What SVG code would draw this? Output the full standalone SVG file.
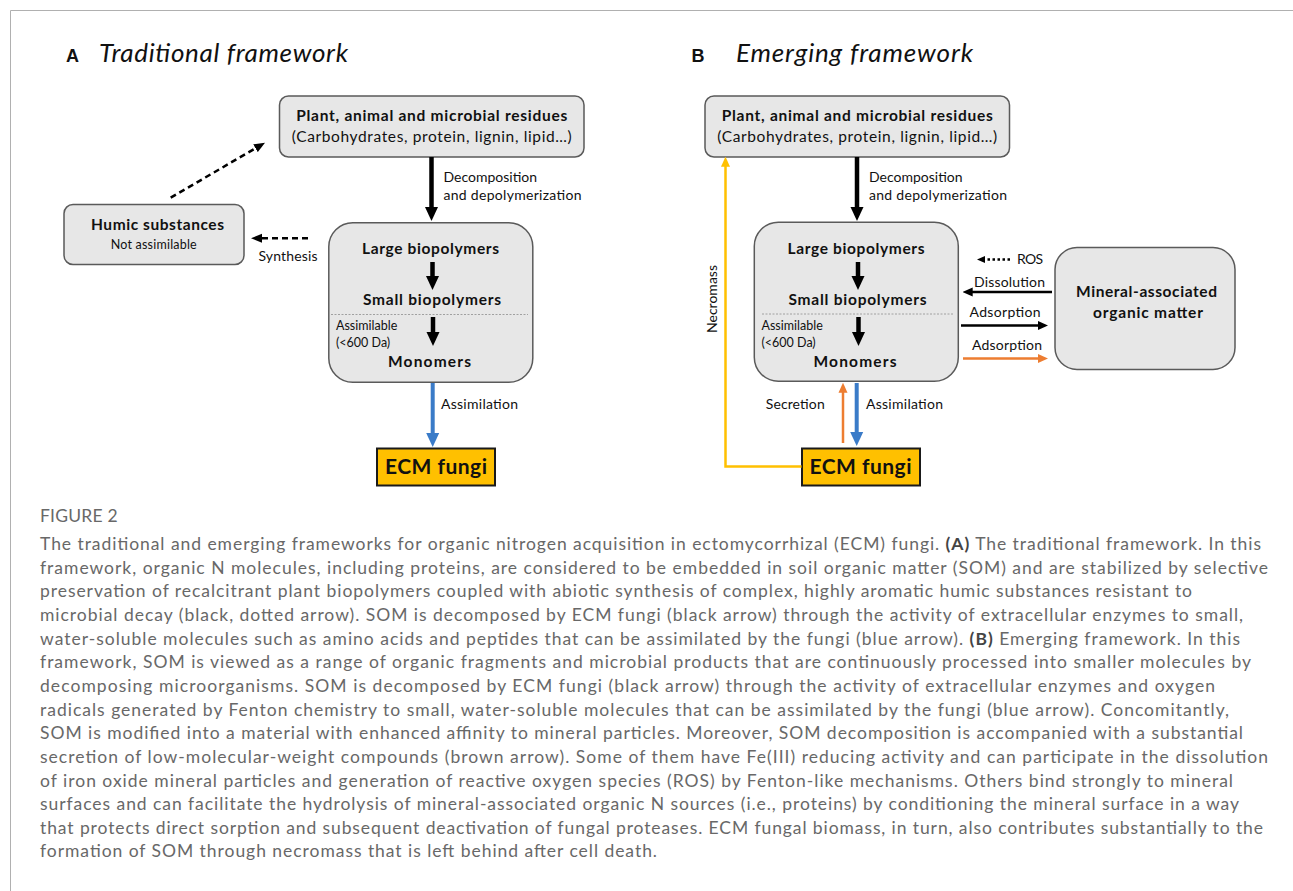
<svg xmlns="http://www.w3.org/2000/svg" width="1293" height="891" viewBox="0 0 1293 891">
<defs>
<style>
.t{font-family:Lato,"Open Sans","Liberation Sans",sans-serif;fill:#111}
.b{font-weight:bold}
.box{fill:#e7e7e7;stroke:#5a5a5a;stroke-width:1.5}
.ecm{fill:#ffc000;stroke:#1a1a1a;stroke-width:2}
.lab{font-size:14px}
.big{font-size:15.5px;font-weight:bold}
.cap{font-family:Lato,"Open Sans","Liberation Sans",sans-serif;font-size:17.5px;font-weight:400;fill:#686868}
.ttl{font-family:Lato,"Open Sans","Liberation Sans",sans-serif;font-style:italic;font-size:26px;fill:#111}
.pl{font-family:"Liberation Sans",Arial,sans-serif;font-weight:bold;font-size:18px;fill:#111}
</style>
<marker id="hk" markerUnits="userSpaceOnUse" markerWidth="14" markerHeight="14" viewBox="0 0 14 14" refX="4" refY="7" orient="auto"><path d="M0,0.5 L14,7 L0,13.5z" fill="#000"/></marker>
<marker id="hb" markerUnits="userSpaceOnUse" markerWidth="14" markerHeight="14" viewBox="0 0 14 14" refX="4" refY="7" orient="auto"><path d="M0,0.5 L14,7 L0,13.5z" fill="#3a7bc8"/></marker>
<marker id="ht" markerUnits="userSpaceOnUse" markerWidth="10" markerHeight="10" viewBox="0 0 10 10" refX="3" refY="5" orient="auto"><path d="M0,0.5 L10,5 L0,9.5z" fill="#000"/></marker>
<marker id="ho" markerUnits="userSpaceOnUse" markerWidth="10" markerHeight="10" viewBox="0 0 10 10" refX="3" refY="5" orient="auto"><path d="M0,0.5 L10,5 L0,9.5z" fill="#ed7d31"/></marker>
<marker id="hy" markerUnits="userSpaceOnUse" markerWidth="10" markerHeight="10" viewBox="0 0 10 10" refX="3" refY="5" orient="auto"><path d="M0,0.5 L10,5 L0,9.5z" fill="#ffc000"/></marker>
<marker id="hd" markerUnits="userSpaceOnUse" markerWidth="11" markerHeight="10" viewBox="0 0 11 10" refX="3" refY="5" orient="auto"><path d="M0,0.5 L11,5 L0,9.5z" fill="#000"/></marker>
<marker id="hr" markerUnits="userSpaceOnUse" markerWidth="8" markerHeight="8" viewBox="0 0 8 8" refX="2" refY="4" orient="auto"><path d="M0,0.5 L8,4 L0,7.5z" fill="#000"/></marker>
</defs>
<rect width="1293" height="891" fill="#fff"/>
<path d="M10.5,891 V10.5 H1293" fill="none" stroke="#b0b0b0" stroke-width="1"/>

<!-- Panel titles -->
<g id="titleA">
<text class="pl" x="66" y="61.5">A</text>
<text class="ttl" x="99" y="62" textLength="249">Traditional framework</text>
</g>
<g id="titleB">
<text class="pl" x="691.5" y="61.5">B</text>
<text class="ttl" x="736" y="62" textLength="237">Emerging framework</text>
</g>

<!-- Panel A nodes -->
<g id="A-residues">
<rect class="box" x="279.5" y="96" width="304.5" height="61" rx="9"/>
<text class="t big" x="431.7" y="120.5" text-anchor="middle" textLength="271">Plant, animal and microbial residues</text>
<text class="t" x="431.7" y="141.5" text-anchor="middle" font-size="15.5" textLength="280">(Carbohydrates, protein, lignin, lipid…)</text>
</g>
<g id="A-humic">
<rect class="box" x="64" y="204.5" width="180" height="60" rx="9"/>
<text class="t big" x="157.5" y="230" text-anchor="middle" textLength="133">Humic substances</text>
<text class="t" x="153.7" y="249" text-anchor="middle" font-size="12.5" textLength="86">Not assimilable</text>
</g>
<g id="A-pool">
<rect class="box" x="328.8" y="222.7" width="204" height="159.6" rx="24"/>
<text class="t big" x="430.5" y="254" text-anchor="middle" textLength="137">Large biopolymers</text>
<text class="t big" x="432" y="305" text-anchor="middle" textLength="138">Small biopolymers</text>
<line x1="331" y1="314.5" x2="528" y2="314.5" stroke="#a0a0a0" stroke-width="1" stroke-dasharray="2,1.5"/>
<text class="t" x="336" y="330" font-size="12.5">Assimilable</text>
<text class="t" x="336" y="347" font-size="12.5">(&lt;600 Da)</text>
<text class="t big" x="429.5" y="367" text-anchor="middle" textLength="83">Monomers</text>
</g>
<g id="A-ecm">
<rect class="ecm" x="377" y="448.5" width="118" height="37"/>
<text class="t b" x="436" y="474" text-anchor="middle" font-size="21" textLength="102">ECM fungi</text>
</g>

<!-- Panel B nodes -->
<g id="B-residues">
<rect class="box" x="705" y="96" width="304.5" height="61" rx="9"/>
<text class="t big" x="857.2" y="120.5" text-anchor="middle" textLength="271">Plant, animal and microbial residues</text>
<text class="t" x="857.2" y="141.5" text-anchor="middle" font-size="15.5" textLength="280">(Carbohydrates, protein, lignin, lipid…)</text>
</g>
<g id="B-pool">
<rect class="box" x="754.3" y="222.2" width="204" height="159" rx="24"/>
<text class="t big" x="856" y="254" text-anchor="middle" textLength="137">Large biopolymers</text>
<text class="t big" x="857.5" y="305" text-anchor="middle" textLength="138">Small biopolymers</text>
<line x1="762" y1="314" x2="954" y2="314" stroke="#a0a0a0" stroke-width="1" stroke-dasharray="2,1.5"/>
<text class="t" x="761.5" y="330" font-size="12.5">Assimilable</text>
<text class="t" x="761.5" y="347" font-size="12.5">(&lt;600 Da)</text>
<text class="t big" x="855" y="367" text-anchor="middle" textLength="83">Monomers</text>
</g>
<g id="B-mineral">
<rect class="box" x="1055" y="247.5" width="180" height="122" rx="22"/>
<text class="t big" x="1146.5" y="297" text-anchor="middle" textLength="141">Mineral-associated</text>
<text class="t big" x="1148" y="317.5" text-anchor="middle" textLength="110">organic matter</text>
</g>
<g id="B-ecm">
<rect class="ecm" x="802" y="448.5" width="118" height="37"/>
<text class="t b" x="860.5" y="474" text-anchor="middle" font-size="21" textLength="102">ECM fungi</text>
</g>

<!-- Connectors -->
<g id="connectors" fill="none">
<line x1="431.5" y1="157" x2="431.5" y2="211" stroke="#000" stroke-width="4.5" marker-end="url(#hk)"/>
<line x1="432.5" y1="262" x2="432.5" y2="280" stroke="#000" stroke-width="4.5" marker-end="url(#hk)"/>
<line x1="433" y1="317" x2="433" y2="336" stroke="#000" stroke-width="4.5" marker-end="url(#hk)"/>
<line x1="432.7" y1="383" x2="432.7" y2="437" stroke="#3a7bc8" stroke-width="4" marker-end="url(#hb)"/>
<line x1="170.7" y1="197.7" x2="258.1" y2="146.7" stroke="#000" stroke-width="2.5" stroke-dasharray="6,4" marker-end="url(#hd)"/>
<line x1="308" y1="238.3" x2="259" y2="238.3" stroke="#000" stroke-width="2.5" stroke-dasharray="6,4" marker-end="url(#hd)"/>
<line x1="857" y1="157" x2="857" y2="211" stroke="#000" stroke-width="4.5" marker-end="url(#hk)"/>
<line x1="858" y1="262" x2="858" y2="280" stroke="#000" stroke-width="4.5" marker-end="url(#hk)"/>
<line x1="858.5" y1="317" x2="858.5" y2="336" stroke="#000" stroke-width="4.5" marker-end="url(#hk)"/>
<line x1="856.7" y1="383" x2="856.7" y2="436" stroke="#3a7bc8" stroke-width="4" marker-end="url(#hb)"/>
<line x1="843" y1="443" x2="843" y2="389.7" stroke="#ed7d31" stroke-width="2.5" marker-end="url(#ho)"/>
<polyline points="801.5,466.5 725.5,466.5 725.5,163.7" stroke="#ffc000" stroke-width="2.5" marker-end="url(#hy)"/>
<line x1="1010" y1="259.5" x2="983" y2="259.5" stroke="#000" stroke-width="2.5" stroke-dasharray="2.5,2.5" marker-end="url(#hr)"/>
<line x1="1052" y1="292" x2="969.7" y2="292" stroke="#000" stroke-width="2.5" marker-end="url(#ht)"/>
<line x1="961" y1="325.5" x2="1041" y2="325.5" stroke="#000" stroke-width="2.5" marker-end="url(#ht)"/>
<line x1="963" y1="358.5" x2="1041" y2="358.5" stroke="#ed7d31" stroke-width="2.5" marker-end="url(#ho)"/>
</g>

<!-- Connector labels -->
<g id="labels">
<text class="t lab" x="443.5" y="181.5">Decomposition</text>
<text class="t lab" x="443.5" y="200" textLength="138">and depolymerization</text>
<text class="t lab" x="258.5" y="261" textLength="59">Synthesis</text>
<text class="t lab" x="441" y="409" textLength="77">Assimilation</text>
<text class="t lab" x="869" y="181.5">Decomposition</text>
<text class="t lab" x="869" y="200" textLength="138">and depolymerization</text>
<text class="t lab" x="1017" y="263.5" textLength="26">ROS</text>
<text class="t lab" x="974" y="286.5" textLength="71">Dissolution</text>
<text class="t lab" x="969.5" y="316.5" textLength="71">Adsorption</text>
<text class="t lab" x="972" y="350" textLength="70">Adsorption</text>
<text class="t lab" x="765.7" y="408.5" textLength="59">Secretion</text>
<text class="t lab" x="866" y="408.5" textLength="77">Assimilation</text>
<text class="t lab" transform="translate(716.5,299) rotate(-90)" text-anchor="middle" textLength="68">Necromass</text>
</g>

<!-- Caption -->
<g id="caption">
<text class="cap" x="40" y="522" font-size="12.5" fill="#666" letter-spacing="0.2">FIGURE 2</text>
<text class="cap" x="40" y="550" textLength="1221">The traditional and emerging frameworks for organic nitrogen acquisition in ectomycorrhizal (ECM) fungi. <tspan font-weight="bold" fill="#444">(A)</tspan> The traditional framework. In this</text>
<text class="cap" x="40" y="573.65" textLength="1228">framework, organic N molecules, including proteins, are considered to be embedded in soil organic matter (SOM) and are stabilized by selective</text>
<text class="cap" x="40" y="597.3" textLength="1152">preservation of recalcitrant plant biopolymers coupled with abiotic synthesis of complex, highly aromatic humic substances resistant to</text>
<text class="cap" x="40" y="620.95" textLength="1203">microbial decay (black, dotted arrow). SOM is decomposed by ECM fungi (black arrow) through the activity of extracellular enzymes to small,</text>
<text class="cap" x="40" y="644.6" textLength="1200">water-soluble molecules such as amino acids and peptides that can be assimilated by the fungi (blue arrow). <tspan font-weight="bold" fill="#444">(B)</tspan> Emerging framework. In this</text>
<text class="cap" x="40" y="668.25" textLength="1211">framework, SOM is viewed as a range of organic fragments and microbial products that are continuously processed into smaller molecules by</text>
<text class="cap" x="40" y="691.9" textLength="1175">decomposing microorganisms. SOM is decomposed by ECM fungi (black arrow) through the activity of extracellular enzymes and oxygen</text>
<text class="cap" x="40" y="715.55" textLength="1189">radicals generated by Fenton chemistry to small, water-soluble molecules that can be assimilated by the fungi (blue arrow). Concomitantly,</text>
<text class="cap" x="40" y="739.2" textLength="1203">SOM is modified into a material with enhanced affinity to mineral particles. Moreover, SOM decomposition is accompanied with a substantial</text>
<text class="cap" x="40" y="762.85" textLength="1228">secretion of low-molecular-weight compounds (brown arrow). Some of them have Fe(III) reducing activity and can participate in the dissolution</text>
<text class="cap" x="40" y="786.5" textLength="1193">of iron oxide mineral particles and generation of reactive oxygen species (ROS) by Fenton-like mechanisms. Others bind strongly to mineral</text>
<text class="cap" x="40" y="810.15" textLength="1199">surfaces and can facilitate the hydrolysis of mineral-associated organic N sources (i.e., proteins) by conditioning the mineral surface in a way</text>
<text class="cap" x="40" y="833.8" textLength="1223">that protects direct sorption and subsequent deactivation of fungal proteases. ECM fungal biomass, in turn, also contributes substantially to the</text>
<text class="cap" x="40" y="857.45" textLength="617">formation of SOM through necromass that is left behind after cell death.</text>
</g>
</svg>
